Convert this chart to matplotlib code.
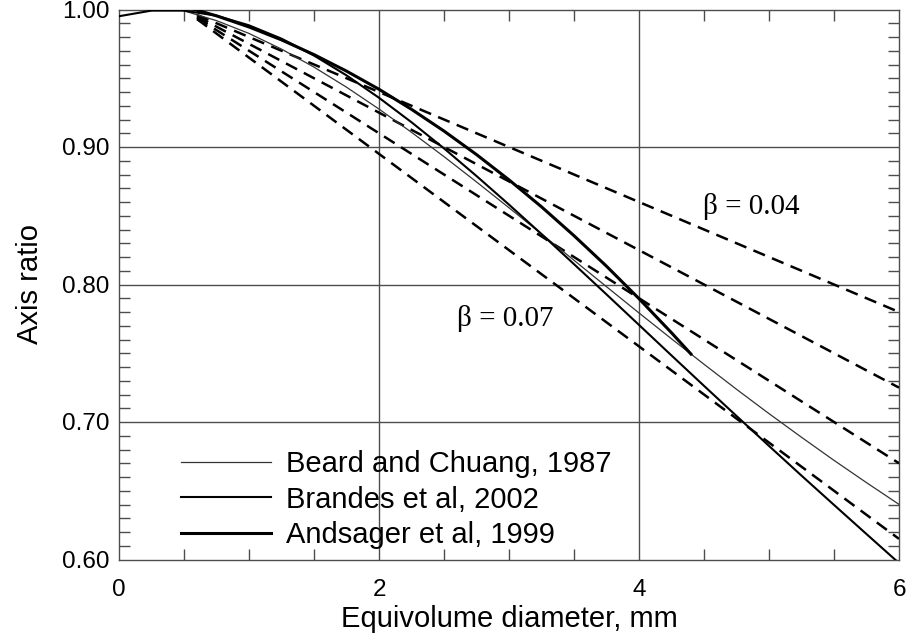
import matplotlib
matplotlib.use("Agg")
import matplotlib.pyplot as plt
from matplotlib.ticker import MultipleLocator

# Equivolume diameter (mm) sample points for the empirical fits
d_bc = [0.0, 0.25, 0.5, 0.75, 1.0, 1.25, 1.5, 1.75, 2.0, 2.25, 2.5, 2.75, 3.0,
        3.25, 3.5, 3.75, 4.0, 4.25, 4.5, 4.75, 5.0, 5.25, 5.5, 5.75, 6.0]
r_bc = [1.0048, 1.0034, 0.9990, 0.9919, 0.9826, 0.9712, 0.9581, 0.9435, 0.9276,
        0.9107, 0.8930, 0.8746, 0.8558, 0.8368, 0.8176, 0.7984, 0.7793, 0.7605,
        0.7420, 0.7238, 0.7061, 0.6889, 0.6721, 0.6559, 0.6401]

d_brandes = d_bc
r_brandes = [0.9951, 0.9992, 0.9992, 0.9955, 0.9885, 0.9788, 0.9665, 0.9521, 0.9358,
             0.9180, 0.8990, 0.8789, 0.8581, 0.8367, 0.8148, 0.7928, 0.7706, 0.7484,
             0.7263, 0.7044, 0.6826, 0.6610, 0.6397, 0.6185, 0.5974]

d_andsager = [0.5, 0.75, 1.0, 1.25, 1.5, 1.75, 2.0, 2.25, 2.5, 2.75, 3.0, 3.25,
              3.5, 3.75, 4.0, 4.25, 4.4]
r_andsager = [1.0022, 0.9954, 0.9873, 0.9779, 0.9672, 0.9552, 0.9420, 0.9274, 0.9116,
              0.8945, 0.8761, 0.8565, 0.8355, 0.8133, 0.7897, 0.7649, 0.7494]

# Linear axis-ratio relations for several slopes (endpoints)
beta_d = [0.6, 6.0]
r_beta_004 = [0.996, 0.780]
r_beta_005 = [0.995, 0.725]
r_beta_006 = [0.994, 0.670]
r_beta_007 = [0.993, 0.615]

legend_labels = ["Beard and Chuang, 1987", "Brandes et al, 2002", "Andsager et al, 1999"]

plt.rcParams["font.family"] = ["Liberation Sans", "DejaVu Sans"]
plt.rcParams["lines.scale_dashes"] = False

fig = plt.figure(figsize=(9.07, 6.39), dpi=100)
ax = fig.add_axes([119 / 907, 1 - 559.5 / 639, 780 / 907, 550 / 639])

grid_col = "#4d4d4d"
for x in (2, 4):
    ax.axvline(x, color=grid_col, lw=1.0, zorder=1)
for y in (0.7, 0.8, 0.9):
    ax.axhline(y, color=grid_col, lw=1.0, zorder=1)

dash = (0, (9, 5.5))
for rv in (r_beta_004, r_beta_005, r_beta_006, r_beta_007):
    ax.plot(beta_d, rv, color="black", lw=1.8, linestyle=dash, zorder=3)

l_bc, = ax.plot(d_bc, r_bc, color="#333333", lw=0.9, zorder=4)
l_br, = ax.plot(d_brandes, r_brandes, color="black", lw=1.5, zorder=4)
l_an, = ax.plot(d_andsager, r_andsager, color="black", lw=2.2, zorder=4)

serif = ["Liberation Serif", "DejaVu Serif"]
ax.text(4.49, 0.8565, "β = 0.04", family=serif, fontsize=21, va="center", ha="left")
ax.text(2.60, 0.7756, "β = 0.07", family=serif, fontsize=21, va="center", ha="left")

ax.legend([l_bc, l_br, l_an], legend_labels, loc="upper left",
          bbox_to_anchor=(62 / 780, (559.5 - 450) / 550), frameon=False,
          fontsize=21, handlelength=3.1, handletextpad=0.5, labelspacing=0.26,
          borderpad=0, borderaxespad=0)

ax.set_xlim(0, 6)
ax.set_ylim(0.6, 1.0)
ax.xaxis.set_major_locator(MultipleLocator(2))
ax.xaxis.set_minor_locator(MultipleLocator(0.5))
ax.yaxis.set_major_locator(MultipleLocator(0.1))
ax.yaxis.set_minor_locator(MultipleLocator(0.01))
ax.xaxis.set_major_formatter(plt.FuncFormatter(lambda v, p: f"{v:.0f}"))
ax.yaxis.set_major_formatter(plt.FuncFormatter(lambda v, p: f"{v:.2f}"))

ax.tick_params(which="both", direction="in", top=True, right=True, color=grid_col,
               width=1.0, labelsize=17.5)
ax.tick_params(which="major", length=0)
ax.tick_params(which="minor", length=8)
ax.tick_params(axis="x", which="major", pad=14)
ax.tick_params(axis="y", which="major", pad=7)
for s in ax.spines.values():
    s.set_color(grid_col)
    s.set_linewidth(1.0)

ax.set_xlabel("Equivolume diameter, mm", fontsize=21, labelpad=3)
ax.set_ylabel("Axis ratio", fontsize=21, labelpad=13)

fig.savefig("out.png", dpi=100)
